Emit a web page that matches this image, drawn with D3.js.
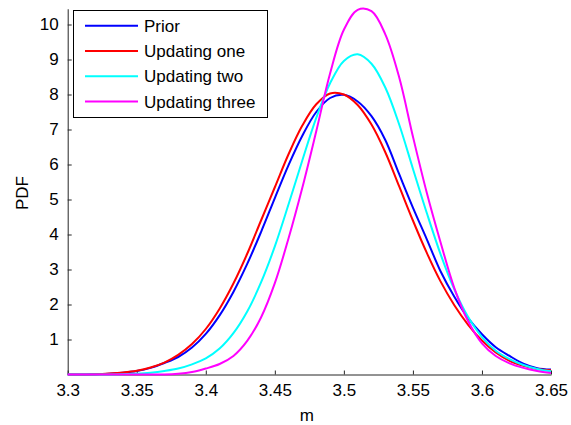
<!DOCTYPE html>
<html>
<head>
<meta charset="utf-8">
<script src="https://cdn.jsdelivr.net/npm/d3@7"></script>
<style>
    body { margin: 0; background: #fff; }
    #chart { width: 571px; height: 425px; }
    text { font-family: Arial, "Liberation Sans", sans-serif; }
</style>
</head>
<body>
<div id="chart"></div>
<script>
// values, x = m, y = PDF
const mValues = [3.30, 3.31, 3.32, 3.33, 3.34, 3.35, 3.36, 3.37, 3.38, 3.39,
    3.40, 3.41, 3.42, 3.43, 3.44, 3.45, 3.46, 3.47, 3.48, 3.49,
    3.50, 3.51, 3.52, 3.53, 3.54, 3.55, 3.56, 3.57, 3.58, 3.59,
    3.60, 3.61, 3.62, 3.63, 3.64, 3.65];
const prior = [0, 0, 0.01, 0.02, 0.05, 0.10, 0.19, 0.33, 0.50, 0.77,
    1.16, 1.69, 2.36, 3.16, 4.07, 5.04, 5.99, 6.83, 7.50, 7.90,
    7.99, 7.80, 7.38, 6.70, 5.73, 4.77, 3.87, 2.95, 2.22, 1.61,
    1.15, 0.78, 0.53, 0.31, 0.18, 0.14];
const updatingOne = [0, 0, 0.01, 0.03, 0.06, 0.11, 0.20, 0.34, 0.56, 0.87,
    1.30, 1.88, 2.60, 3.45, 4.40, 5.35, 6.30, 7.12, 7.72, 8.03,
    8.00, 7.70, 7.14, 6.35, 5.38, 4.40, 3.48, 2.66, 1.98, 1.42,
    0.97, 0.63, 0.39, 0.25, 0.16, 0.12];
const updatingTwo = [0, 0, 0, 0, 0.005, 0.02, 0.05, 0.10, 0.17, 0.29,
    0.46, 0.74, 1.18, 1.80, 2.63, 3.66, 4.87, 6.13, 7.33, 8.32,
    8.96, 9.15, 8.88, 8.20, 7.15, 5.88, 4.62, 3.44, 2.43, 1.64,
    1.07, 0.68, 0.44, 0.27, 0.16, 0.09];
const updatingThree = [0, 0, 0, 0, 0, 0, 0, 0, 0.02, 0.07,
    0.17, 0.30, 0.53, 0.96, 1.63, 2.61, 3.90, 5.35, 6.95, 8.60,
    9.85, 10.42, 10.38, 9.72, 8.50, 6.80, 5.20, 3.78, 2.47, 1.52,
    0.89, 0.53, 0.32, 0.19, 0.10, 0.04];

const seriesNames = ['Prior', 'Updating one', 'Updating two', 'Updating three'];
const seriesColors = ['#0000ff', '#ff0000', '#00ffff', '#ff00ff'];
const seriesValues = [prior, updatingOne, updatingTwo, updatingThree];

const xTicks = [3.3, 3.35, 3.4, 3.45, 3.5, 3.55, 3.6, 3.65];
const yTicks = [1, 2, 3, 4, 5, 6, 7, 8, 9, 10];

const width = 571, height = 425;
const margin = {top: 8.75, right: 20, bottom: 50.5, left: 67.7};
const chartDiv = document.getElementById('chart');

const svg = d3.select(chartDiv).append('svg')
    .attr('width', width)
    .attr('height', height);

let x = d3.scaleLinear()
    .domain([3.3, 3.65])
    .range([margin.left, 551]);
let y = d3.scaleLinear()
    .domain([0, 10.45])
    .range([height - margin.bottom, margin.top]);

// axes (box off, ticks pointing inward)
const xAxis = svg.append('g')
    .attr('class', 'x axis')
    .attr('transform', `translate(0,${y(0)})`)
    .call(d3.axisBottom(x)
        .tickValues(xTicks)
        .tickSizeInner(-4)
        .tickSizeOuter(0)
        .tickPadding(9)
        .tickFormat(d3.format('')));
const yAxis = svg.append('g')
    .attr('class', 'y axis')
    .attr('transform', `translate(${x(3.3)},0)`)
    .call(d3.axisLeft(y)
        .tickValues(yTicks)
        .tickSizeInner(-4)
        .tickSizeOuter(0)
        .tickPadding(9));

svg.selectAll('.axis path, .axis line').attr('stroke', '#262626');
svg.selectAll('.axis text')
    .attr('font-size', 17)
    .attr('fill', '#000');
xAxis.selectAll('text').attr('dy', '0.71em');

const line = d3.line()
    .x((d, i) => x(mValues[i]))
    .y(d => y(d))
    .curve(d3.curveCatmullRom);

const dataRegion = svg.append('g').attr('id', 'data');
dataRegion.selectAll('path')
    .data(seriesValues)
    .join('path')
    .attr('d', d => line(d))
    .attr('fill', 'none')
    .attr('stroke', (d, i) => seriesColors[i])
    .attr('stroke-width', 2);

// axis labels
svg.append('text')
    .attr('x', x(3.5) - 37)
    .attr('y', 421)
    .attr('text-anchor', 'middle')
    .attr('font-size', 17)
    .text('m');
svg.append('text')
    .attr('transform', `translate(28,193) rotate(-90)`)
    .attr('text-anchor', 'middle')
    .attr('font-size', 17)
    .text('PDF');

// legend
const legend = svg.append('g').attr('class', 'legend');
legend.append('rect')
    .attr('x', 73.5)
    .attr('y', 10.5)
    .attr('width', 194)
    .attr('height', 107)
    .attr('fill', '#fff')
    .attr('stroke', '#000');
const items = legend.selectAll('g.item')
    .data(seriesNames)
    .join('g')
    .attr('class', 'item')
    .attr('transform', (d, i) => `translate(0,${25.7 + i * 25.3})`);
items.append('line')
    .attr('x1', 85)
    .attr('x2', 138)
    .attr('stroke', (d, i) => seriesColors[i])
    .attr('stroke-width', 2);
items.append('text')
    .attr('x', 144)
    .attr('dy', '0.35em')
    .attr('font-size', 17)
    .text(d => d);
</script>
</body>
</html>
